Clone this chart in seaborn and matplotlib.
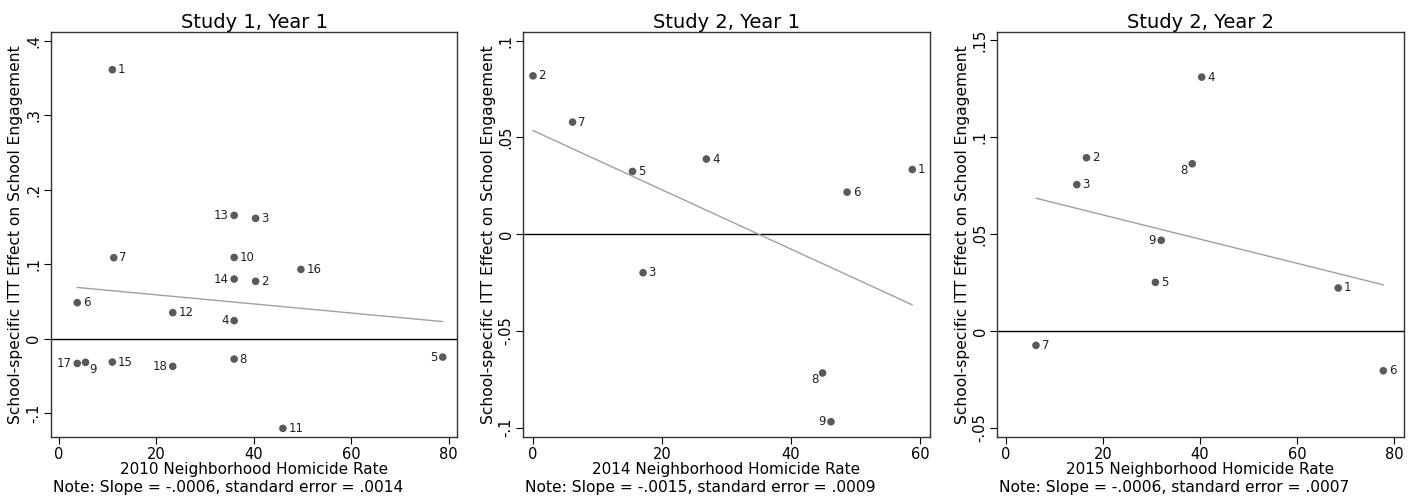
import numpy as np
import pandas as pd
import matplotlib
matplotlib.use('Agg')
import matplotlib.pyplot as plt
from matplotlib.ticker import FuncFormatter
import seaborn as sns

sns.set_style("white")
plt.rcParams['font.family'] = ['DejaVu Sans']
plt.rcParams['text.color'] = 'black'
plt.rcParams['axes.labelcolor'] = 'black'
plt.rcParams['xtick.color'] = 'black'
plt.rcParams['ytick.color'] = 'black'

# school-level ITT estimates vs neighborhood homicide rate
titles = ['Study 1, Year 1', 'Study 2, Year 1', 'Study 2, Year 2']
xlabels = ['2010 Neighborhood Homicide Rate', '2014 Neighborhood Homicide Rate',
           '2015 Neighborhood Homicide Rate']
notes = ['Note: Slope = -.0006, standard error = .0014',
         'Note: Slope = -.0015, standard error = .0009',
         'Note: Slope = -.0006, standard error = .0007']

s1y1_school = list(range(1, 19))
s1y1_rate = [11.0, 40.4, 40.4, 36.0, 78.8, 3.8, 11.3, 36.0, 5.5,
             36.0, 46.0, 23.4, 36.0, 36.0, 11.0, 49.7, 3.8, 23.4]
s1y1_effect = [0.361, 0.077, 0.1615, 0.0242, -0.0247, 0.0483, 0.1087, -0.0274, -0.0318,
               0.109, -0.1204, 0.0349, 0.1655, 0.080, -0.0314, 0.093, -0.0332, -0.0372]

s2y1_school = list(range(1, 10))
s2y1_rate = [58.8, 0.05, 17.1, 26.9, 15.46, 48.7, 6.18, 44.9, 46.2]
s2y1_effect = [0.0334, 0.0818, -0.020, 0.0388, 0.0324, 0.0217, 0.0579, -0.0718, -0.097]

s2y2_school = list(range(1, 10))
s2y2_rate = [68.5, 16.6, 14.6, 40.35, 30.8, 77.8, 6.18, 38.4, 32.0]
s2y2_effect = [0.0222, 0.0894, 0.0755, 0.131, 0.0251, -0.0205, -0.0074, 0.0863, 0.0468]

y_ticks = [[-0.1, 0, 0.1, 0.2, 0.3, 0.4],
           [-0.1, -0.05, 0, 0.05, 0.1],
           [-0.05, 0, 0.05, 0.1, 0.15]]
x_ticks = [[0, 20, 40, 60, 80], [0, 20, 40, 60], [0, 20, 40, 60, 80]]

# layout / style
xlims = [(-1.6, 81.8), (-1.45, 61.5), (-1.8, 82.0)]
ylims = [(-0.132, 0.4117), (-0.1049, 0.1045), (-0.0547, 0.1543)]
lefts = [0.0359, 0.3688, 0.7028]
# label placement: default right of marker
label_pos = [{13: 'l', 14: 'l', 4: 'l', 17: 'l', 18: 'l', 5: 'l', 9: 'br'},
             {8: 'bl', 9: 'l'},
             {8: 'bl', 9: 'l'}]
offsets = {'r': (4, 0, 'left', 'center'), 'l': (-4, 0, 'right', 'center'),
           'br': (3, -5, 'left', 'center'), 'bl': (-3, -5, 'right', 'center')}

panels = [(s1y1_school, s1y1_rate, s1y1_effect),
          (s2y1_school, s2y1_rate, s2y1_effect),
          (s2y2_school, s2y2_rate, s2y2_effect)]

def stata_fmt(v, pos):
    if abs(v) < 1e-12:
        return '0'
    s = ('%g' % v)
    return s.replace('0.', '.')

fig = plt.figure(figsize=(14.19, 5.01), dpi=100)
for i, (school, rate, effect) in enumerate(panels):
    df = pd.DataFrame({'school': school, 'rate': rate, 'effect': effect})
    ax = fig.add_axes([lefts[i], 0.1277, 0.2864, 0.8085])
    ax.axhline(0, color='black', lw=1.0, zorder=1)
    sns.regplot(x='rate', y='effect', data=df, scatter=False, ci=None, truncate=True,
                line_kws={'color': '#a0a0a0', 'lw': 1.0, 'zorder': 2}, ax=ax)
    sns.scatterplot(x='rate', y='effect', data=df, color='#5a5a5a', s=30,
                    edgecolor='none', zorder=3, ax=ax)
    for _, r in df.iterrows():
        p = label_pos[i].get(int(r.school), 'r')
        dx, dy, ha, va = offsets[p]
        ax.annotate(str(int(r.school)), (r.rate, r.effect), xytext=(dx, dy),
                    textcoords='offset points', ha=ha, va=va, fontsize=8.5, color='#222222')
    ax.set_xlim(*xlims[i])
    ax.set_ylim(*ylims[i])
    ax.set_xticks(x_ticks[i])
    ax.set_yticks(y_ticks[i])
    ax.yaxis.set_major_formatter(FuncFormatter(stata_fmt))
    ax.tick_params(axis='both', direction='out', length=5, width=0.8, labelsize=10.5,
                   color='black', bottom=True, left=True, pad=2)
    plt.setp(ax.get_yticklabels(), rotation=90, va='center')
    for sp in ax.spines.values():
        sp.set_color('#333333')
        sp.set_linewidth(1.0)
    ax.set_title(titles[i], fontsize=14, pad=3)
    ax.set_xlabel(xlabels[i], fontsize=11, labelpad=0)
    ax.set_ylabel('School-specific ITT Effect on School Engagement', fontsize=11.2, labelpad=2)
    ax.text(0.005, -0.125, notes[i], transform=ax.transAxes, fontsize=11.2,
            ha='left', va='center')

fig.savefig('out.png', dpi=100)
